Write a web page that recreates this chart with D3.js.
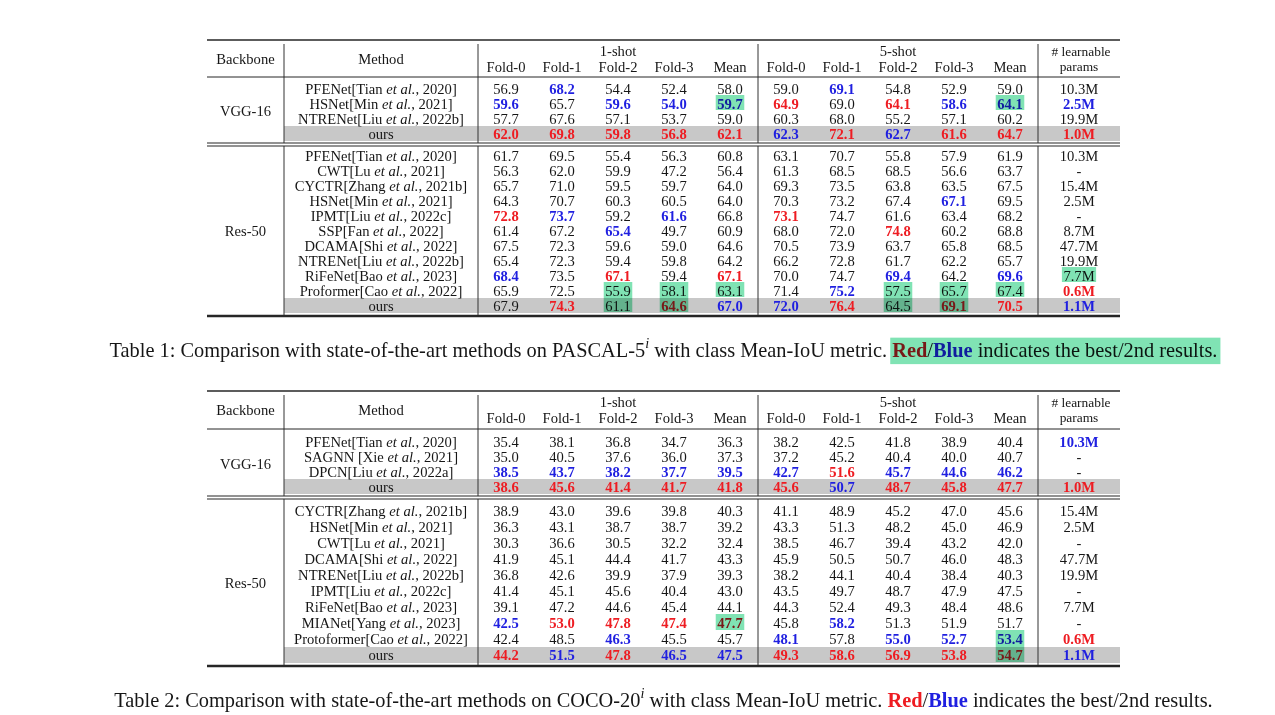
<!DOCTYPE html>
<html>
<head>
<meta charset="utf-8">
<script src="https://cdn.jsdelivr.net/npm/d3@7"></script>
<style>
html, body { margin: 0; padding: 0; background: #fff; }
svg { display: block; font-family: "Liberation Serif", "Times New Roman", serif; }
svg text { white-space: pre; }
.hl { mix-blend-mode: multiply; }
</style>
</head>
<body>
<svg id="chart"></svg>
<script>
const W = 1275, H = 715;

const FOLDS = ["Fold-0", "Fold-1", "Fold-2", "Fold-3", "Mean"];
const SHOTS = ["1-shot", "5-shot"];
const BACKBONES = ["VGG-16", "Res-50"];

// Table 1 - PASCAL-5i
const PASCAL_METHODS = [
    ["PFENet[Tian et al., 2020]", "HSNet[Min et al., 2021]", "NTRENet[Liu et al., 2022b]", "ours"],
    ["PFENet[Tian et al., 2020]", "CWT[Lu et al., 2021]", "CYCTR[Zhang et al., 2021b]", "HSNet[Min et al., 2021]",
     "IPMT[Liu et al., 2022c]", "SSP[Fan et al., 2022]", "DCAMA[Shi et al., 2022]", "NTRENet[Liu et al., 2022b]",
     "RiFeNet[Bao et al., 2023]", "Proformer[Cao et al., 2022]", "ours"]
];
const PASCAL_1SHOT = [
    [[56.9, 68.2, 54.4, 52.4, 58.0], [59.6, 65.7, 59.6, 54.0, 59.7], [57.7, 67.6, 57.1, 53.7, 59.0], [62.0, 69.8, 59.8, 56.8, 62.1]],
    [[61.7, 69.5, 55.4, 56.3, 60.8], [56.3, 62.0, 59.9, 47.2, 56.4], [65.7, 71.0, 59.5, 59.7, 64.0], [64.3, 70.7, 60.3, 60.5, 64.0],
     [72.8, 73.7, 59.2, 61.6, 66.8], [61.4, 67.2, 65.4, 49.7, 60.9], [67.5, 72.3, 59.6, 59.0, 64.6], [65.4, 72.3, 59.4, 59.8, 64.2],
     [68.4, 73.5, 67.1, 59.4, 67.1], [65.9, 72.5, 55.9, 58.1, 63.1], [67.9, 74.3, 61.1, 64.6, 67.0]]
];
const PASCAL_5SHOT = [
    [[59.0, 69.1, 54.8, 52.9, 59.0], [64.9, 69.0, 64.1, 58.6, 64.1], [60.3, 68.0, 55.2, 57.1, 60.2], [62.3, 72.1, 62.7, 61.6, 64.7]],
    [[63.1, 70.7, 55.8, 57.9, 61.9], [61.3, 68.5, 68.5, 56.6, 63.7], [69.3, 73.5, 63.8, 63.5, 67.5], [70.3, 73.2, 67.4, 67.1, 69.5],
     [73.1, 74.7, 61.6, 63.4, 68.2], [68.0, 72.0, 74.8, 60.2, 68.8], [70.5, 73.9, 63.7, 65.8, 68.5], [66.2, 72.8, 61.7, 62.2, 65.7],
     [70.0, 74.7, 69.4, 64.2, 69.6], [71.4, 75.2, 57.5, 65.7, 67.4], [72.0, 76.4, 64.5, 69.1, 70.5]]
];
const PASCAL_PARAMS = [
    ["10.3M", "2.5M", "19.9M", "1.0M"],
    ["10.3M", "-", "15.4M", "2.5M", "-", "8.7M", "47.7M", "19.9M", "7.7M", "0.6M", "1.1M"]
];
// cells marked with the green highlighter: [group, row, column]
const PASCAL_MARKS = [[0, 1, 4], [0, 1, 9], [1, 8, 10], [1, 9, 2], [1, 9, 3], [1, 9, 4], [1, 9, 7], [1, 9, 8], [1, 9, 9],
                      [1, 10, 2], [1, 10, 3], [1, 10, 7], [1, 10, 8]];

// Table 2 - COCO-20i
const COCO_METHODS = [
    ["PFENet[Tian et al., 2020]", "SAGNN [Xie et al., 2021]", "DPCN[Liu et al., 2022a]", "ours"],
    ["CYCTR[Zhang et al., 2021b]", "HSNet[Min et al., 2021]", "CWT[Lu et al., 2021]", "DCAMA[Shi et al., 2022]",
     "NTRENet[Liu et al., 2022b]", "IPMT[Liu et al., 2022c]", "RiFeNet[Bao et al., 2023]", "MIANet[Yang et al., 2023]",
     "Protoformer[Cao et al., 2022]", "ours"]
];
const COCO_1SHOT = [
    [[35.4, 38.1, 36.8, 34.7, 36.3], [35.0, 40.5, 37.6, 36.0, 37.3], [38.5, 43.7, 38.2, 37.7, 39.5], [38.6, 45.6, 41.4, 41.7, 41.8]],
    [[38.9, 43.0, 39.6, 39.8, 40.3], [36.3, 43.1, 38.7, 38.7, 39.2], [30.3, 36.6, 30.5, 32.2, 32.4], [41.9, 45.1, 44.4, 41.7, 43.3],
     [36.8, 42.6, 39.9, 37.9, 39.3], [41.4, 45.1, 45.6, 40.4, 43.0], [39.1, 47.2, 44.6, 45.4, 44.1], [42.5, 53.0, 47.8, 47.4, 47.7],
     [42.4, 48.5, 46.3, 45.5, 45.7], [44.2, 51.5, 47.8, 46.5, 47.5]]
];
const COCO_5SHOT = [
    [[38.2, 42.5, 41.8, 38.9, 40.4], [37.2, 45.2, 40.4, 40.0, 40.7], [42.7, 51.6, 45.7, 44.6, 46.2], [45.6, 50.7, 48.7, 45.8, 47.7]],
    [[41.1, 48.9, 45.2, 47.0, 45.6], [43.3, 51.3, 48.2, 45.0, 46.9], [38.5, 46.7, 39.4, 43.2, 42.0], [45.9, 50.5, 50.7, 46.0, 48.3],
     [38.2, 44.1, 40.4, 38.4, 40.3], [43.5, 49.7, 48.7, 47.9, 47.5], [44.3, 52.4, 49.3, 48.4, 48.6], [45.8, 58.2, 51.3, 51.9, 51.7],
     [48.1, 57.8, 55.0, 52.7, 53.4], [49.3, 58.6, 56.9, 53.8, 54.7]]
];
const COCO_PARAMS = [
    ["10.3M", "-", "-", "1.0M"],
    ["15.4M", "2.5M", "-", "47.7M", "19.9M", "-", "7.7M", "-", "0.6M", "1.1M"]
];
const COCO_MARKS = [[1, 7, 4], [1, 8, 9], [1, 9, 9]];

const CAPTION_1 = ["Table 1: Comparison with state-of-the-art methods on PASCAL-5", "i", " with class Mean-IoU metric. "];
const CAPTION_2 = ["Table 2: Comparison with state-of-the-art methods on COCO-20", "i", " with class Mean-IoU metric. "];
const CAPTION_TAIL = ["Red", "/", "Blue", " indicates the best/2nd results."];

const RED = "#ee1c22", BLUE = "#1f1fe0", INK = "#161616";
const MARKER = "#80e3b4", SHADE = "#c8c8c8";
const FS = 14.6;

const svg = d3.select("#chart").attr("width", W).attr("height", H);
svg.append("rect").attr("width", W).attr("height", H).attr("fill", "#fff");

// horizontal layout shared by both tables
const LEFT = 207, RIGHT = 1120, X_BACK = 284, X_METH = 478, X_PARAM = 1038;
const col = d3.scaleBand().domain(d3.range(10)).range([X_METH, X_PARAM]);
const colX = c => c < 10 ? col(c) + col.bandwidth() / 2 : (X_PARAM + RIGHT) / 2;

function buildGroups(methods, one, five, params) {
    return BACKBONES.map((b, gi) => ({
        backbone: b,
        rows: methods[gi].map((m, ri) => ({
            method: m,
            cells: one[gi][ri].map(v => v.toFixed(1))
                .concat(five[gi][ri].map(v => v.toFixed(1)), [params[gi][ri]])
        }))
    }));
}

// red = best, blue = 2nd best within a backbone group
function rankColors(rows, c) {
    const lower = c === 10;
    const vals = rows.map(r => parseFloat(r.cells[c]));
    const uniq = Array.from(new Set(vals.filter(v => !isNaN(v))))
        .sort((a, b) => lower ? a - b : b - a);
    return vals.map(v => v === uniq[0] ? RED : v === uniq[1] ? BLUE : null);
}

function methodText(sel, name) {
    const k = name.indexOf("et al.");
    if (k < 0) { sel.text(name); return; }
    sel.append("tspan").text(name.slice(0, k));
    sel.append("tspan").attr("font-style", "italic").text("et al.");
    sel.append("tspan").text(name.slice(k + 6));
}

function vline(g, x, y0, y1) {
    g.append("line").attr("x1", x).attr("x2", x).attr("y1", y0).attr("y2", y1)
        .attr("stroke", "#333").attr("stroke-width", 1);
}
function hline(g, y, w) {
    g.append("line").attr("x1", LEFT).attr("x2", RIGHT).attr("y1", y).attr("y2", y)
        .attr("stroke", "#262626").attr("stroke-width", w);
}

function drawTable(t) {
    const g = svg.append("g");
    const groups = buildGroups(t.methods, t.one, t.five, t.params);

    // header
    const hd = g.append("g").attr("font-size", FS).attr("fill", INK).attr("text-anchor", "middle");
    hd.append("text").attr("x", (LEFT + X_BACK) / 2).attr("y", t.top + 24).text("Backbone");
    hd.append("text").attr("x", (X_BACK + X_METH) / 2).attr("y", t.top + 24).text("Method");
    hd.selectAll(".shot").data(SHOTS).join("text")
        .attr("x", (d, i) => colX(i * 5 + 2)).attr("y", t.top + 16).text(d => d);
    hd.selectAll(".fold").data(d3.range(10)).join("text")
        .attr("x", c => colX(c)).attr("y", t.top + 32).text(c => FOLDS[c % 5]);
    // two cramped lines in the last header cell
    hd.append("text").attr("x", colX(10) + 2).attr("y", t.top + 15.5).attr("font-size", 13.4).text("# learnable");
    hd.append("text").attr("x", colX(10)).attr("y", t.top + 30.8).attr("font-size", 13.4).text("params");

    const cellNodes = {};
    const marks = g.append("g");

    groups.forEach((grp, gi) => {
        const [y0, y1] = t.sections[gi];
        const y = d3.scaleBand().domain(d3.range(grp.rows.length)).range([y0, y1]);
        const last = grp.rows.length - 1;

        g.append("rect").attr("x", X_BACK).attr("width", RIGHT - X_BACK)
            .attr("y", y(last)).attr("height", y.bandwidth()).attr("fill", SHADE);

        const body = g.append("g").attr("font-size", FS).attr("text-anchor", "middle");
        body.append("text").attr("x", (LEFT + X_BACK) / 2).attr("y", (y0 + y1) / 2 + 5)
            .attr("fill", INK).text(grp.backbone);

        const rowG = body.selectAll(".row").data(grp.rows).join("g")
            .attr("transform", (d, ri) => `translate(0,${y(ri) + y.bandwidth() / 2 + 5})`);
        rowG.append("text").attr("x", (X_BACK + X_METH) / 2).attr("fill", INK)
            .each(function(d) { methodText(d3.select(this), d.method); });

        const colors = d3.range(11).map(c => rankColors(grp.rows, c));
        rowG.each(function(d, ri) {
            d3.select(this).selectAll(".cell").data(d.cells).join("text")
                .attr("x", (v, c) => colX(c))
                .attr("fill", (v, c) => colors[c][ri] || INK)
                .attr("font-weight", (v, c) => colors[c][ri] ? "bold" : null)
                .text(v => v)
                .each(function(v, c) { cellNodes[`${gi}-${ri}-${c}`] = { node: this, y: y(ri), h: y.bandwidth() }; });
        });
    });

    // green highlighter on top, multiplied
    t.marks.forEach(([gi, ri, c]) => {
        const cell = cellNodes[`${gi}-${ri}-${c}`];
        const w = cell.node.getComputedTextLength() + 3;
        marks.raise();
        marks.append("rect").attr("class", "hl")
            .attr("x", colX(c) - w / 2).attr("width", w)
            .attr("y", cell.y - 1).attr("height", cell.h)
            .attr("fill", MARKER);
    });

    // rules
    [X_BACK, X_METH, col(5), X_PARAM].forEach(x => {
        vline(g, x, t.top + 4, t.head);
        vline(g, x, t.head, t.dbl);
        vline(g, x, t.dbl + 3, t.bottom);
    });
    hline(g, t.top, 1.6);
    hline(g, t.head, 1);
    hline(g, t.dbl, 1.2);
    hline(g, t.dbl + 3, 1.2);
    hline(g, t.bottom, 2.4);
}

const TABLE_1 = { methods: PASCAL_METHODS, one: PASCAL_1SHOT, five: PASCAL_5SHOT, params: PASCAL_PARAMS, marks: PASCAL_MARKS,
    top: 40, head: 77, sections: [[81, 141], [148, 313]], dbl: 143, bottom: 316, caption: 357, markCaption: true, caption_text: CAPTION_1 };
const TABLE_2 = { methods: COCO_METHODS, one: COCO_1SHOT, five: COCO_5SHOT, params: COCO_PARAMS, marks: COCO_MARKS,
    top: 391, head: 429, sections: [[434, 494], [503, 663]], dbl: 496, bottom: 666, caption: 707, markCaption: false, caption_text: CAPTION_2 };

drawTable(TABLE_1);
drawTable(TABLE_2);

// captions, sized so that they span the measured width
function caption(t, fs) {
    const txt = svg.append("text").attr("x", (LEFT + RIGHT) / 2).attr("y", t.caption)
        .attr("text-anchor", "middle").attr("font-size", fs).attr("fill", INK);
    const [a, sup, b] = t.caption_text;
    txt.append("tspan").text(a);
    txt.append("tspan").attr("font-style", "italic").attr("font-size", fs * 0.7).attr("dy", -fs * 0.42).text(sup);
    txt.append("tspan").attr("dy", fs * 0.42).text(b);
    txt.append("tspan").attr("fill", RED).attr("font-weight", "bold").text(CAPTION_TAIL[0]);
    txt.append("tspan").text(CAPTION_TAIL[1]);
    txt.append("tspan").attr("fill", BLUE).attr("font-weight", "bold").text(CAPTION_TAIL[2]);
    txt.append("tspan").text(CAPTION_TAIL[3]);
    return txt;
}

const probe = caption(TABLE_1, 20);
const fsCap = 20 * 1108 / probe.node().getComputedTextLength();
probe.remove();

[TABLE_1, TABLE_2].forEach(t => {
    const txt = caption(t, fsCap);
    if (!t.markCaption) return;
    const node = txt.node();
    const start = t.caption_text.join("").length;
    const end = start + CAPTION_TAIL.join("").length - 1;
    const x0 = node.getStartPositionOfChar(start).x - 2;
    const x1 = node.getEndPositionOfChar(end).x + 3;
    svg.append("rect").attr("class", "hl")
        .attr("x", x0).attr("width", x1 - x0)
        .attr("y", t.caption - fsCap * 0.95).attr("height", fsCap * 1.3)
        .attr("fill", MARKER);
});
</script>
</body>
</html>
